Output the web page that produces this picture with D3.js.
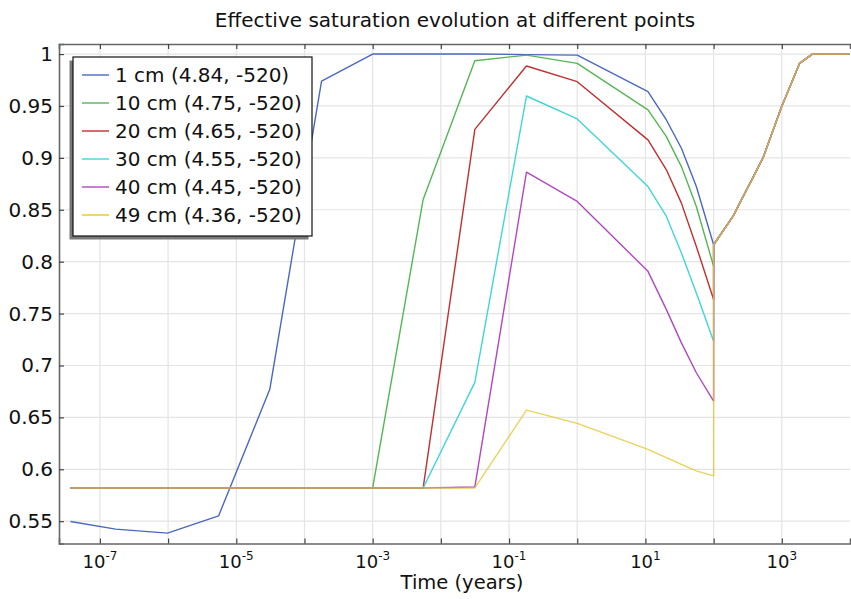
<!DOCTYPE html>
<html>
<head>
<meta charset="utf-8">
<script src="https://cdn.jsdelivr.net/npm/d3@7"></script>
<style>
  html, body { margin: 0; padding: 0; background: #fff; }
  svg { display: block; font-family: "DejaVu Sans", sans-serif; }
</style>
</head>
<body>
<svg id="chart" width="851" height="599"></svg>
<script>
// ---------- data ----------
const titleText = "Effective saturation evolution at different points";
const xLabel = "Time (years)";
const times = [3.7e-8, 1.7e-7, 9.8e-7, 5.5e-6, 3.1e-5, 1.78e-4, 1e-3, 5.5e-3, 0.0315, 0.18, 1.0,
               10.9, 20.3, 33.7, 55.8, 100, 100, 192, 528, 993, 1820, 2800, 10000];
const seriesNames = ["1 cm (4.84, -520)", "10 cm (4.75, -520)", "20 cm (4.65, -520)",
                     "30 cm (4.55, -520)", "40 cm (4.45, -520)", "49 cm (4.36, -520)"];
const seriesColors = ["#4a68c0", "#55b655", "#bf3030", "#40d6d6", "#b048c0", "#e6c52e"];
const s1cm  = [0.5497, 0.5423, 0.5385, 0.5551, 0.677, 0.974, 1.0, 1.0, 1.0, 0.9995, 0.999,
               0.9638, 0.9365, 0.9093, 0.8724, 0.8163, 0.8163, 0.8436, 0.8997, 0.9493, 0.991, 1.0, 1.0];
const s10cm = [0.582, 0.582, 0.582, 0.582, 0.582, 0.582, 0.582, 0.860, 0.9936, 0.999, 0.991,
               0.9462, 0.9205, 0.8916, 0.8532, 0.7955, 0.8163, 0.8436, 0.8997, 0.9493, 0.991, 1.0, 1.0];
const s20cm = [0.582, 0.582, 0.582, 0.582, 0.582, 0.582, 0.582, 0.582, 0.9275, 0.9885, 0.9734,
               0.9173, 0.8885, 0.8564, 0.8147, 0.7635, 0.8163, 0.8436, 0.8997, 0.9493, 0.991, 1.0, 1.0];
const s30cm = [0.582, 0.582, 0.582, 0.582, 0.582, 0.582, 0.582, 0.582, 0.6837, 0.9596, 0.9375,
               0.8724, 0.8436, 0.8084, 0.7699, 0.7234, 0.8163, 0.8436, 0.8997, 0.9493, 0.991, 1.0, 1.0];
const s40cm = [0.582, 0.582, 0.582, 0.582, 0.582, 0.582, 0.582, 0.582, 0.583, 0.8862, 0.858,
               0.7907, 0.7538, 0.7218, 0.693, 0.6657, 0.8163, 0.8436, 0.8997, 0.9493, 0.991, 1.0, 1.0];
const s49cm = [0.582, 0.582, 0.582, 0.582, 0.582, 0.582, 0.582, 0.582, 0.582, 0.657, 0.6442,
               0.6192, 0.6112, 0.6048, 0.5984, 0.5936, 0.8163, 0.8436, 0.8997, 0.9493, 0.991, 1.0, 1.0];
const seriesValues = [s1cm, s10cm, s20cm, s30cm, s40cm, s49cm];
const yTicks = [0.55, 0.6, 0.65, 0.7, 0.75, 0.8, 0.85, 0.9, 0.95, 1];
const yTickLabels = ["0.55", "0.6", "0.65", "0.7", "0.75", "0.8", "0.85", "0.9", "0.95", "1"];
const xTickExponents = [-7, -6, -5, -4, -3, -2, -1, 0, 1, 2, 3];
const xLabelExponents = ["-7", "-5", "-3", "-1", "1", "3"];

// ---------- layout ----------
const svg = d3.select("#chart");
const plot = { left: 59, right: 850, top: 44, bottom: 543.5 };

const x = d3.scaleLog().domain([Math.pow(10, -7.6), 1e4]).range([plot.left, plot.right]);
const y = d3.scaleLinear().domain([0.5285, 1.0097]).range([plot.bottom, plot.top]);

// grid
const grid = svg.append("g");
grid.selectAll("line.vg").data(xTickExponents).enter().append("line")
  .attr("x1", d => x(Math.pow(10, d))).attr("x2", d => x(Math.pow(10, d)))
  .attr("y1", plot.top).attr("y2", plot.bottom)
  .attr("stroke", "#e4e4e4").attr("stroke-width", 1.2);
grid.selectAll("line.hg").data(yTicks).enter().append("line")
  .attr("x1", plot.left).attr("x2", plot.right)
  .attr("y1", d => y(d)).attr("y2", d => y(d))
  .attr("stroke", "#e4e4e4").attr("stroke-width", 1.2);

// clip
svg.append("clipPath").attr("id", "clip").append("rect")
  .attr("x", plot.left).attr("y", plot.top)
  .attr("width", plot.right - plot.left + 2).attr("height", plot.bottom - plot.top);

const line = d3.line().x(d => x(d[0])).y(d => y(d[1]));
const lines = svg.append("g").attr("clip-path", "url(#clip)");
seriesValues.forEach((vals, i) => {
  const pts = times.map((t, k) => [t, vals[k]]);
  lines.append("path").datum(pts)
    .attr("d", line)
    .attr("fill", "none")
    .attr("stroke", seriesColors[i])
    .attr("stroke-width", 1.4)
    .attr("stroke-opacity", i === 5 ? 0.78 : 1)
    .attr("stroke-linejoin", "round");
});

// axes frame
const axisColor = "#666";
const axG = svg.append("g");
const xAxisBottom = d3.axisBottom(x).tickValues(xTickExponents.map(e => Math.pow(10, e)))
  .tickSize(-5).tickFormat("");
const xAxisTop = d3.axisTop(x).tickValues(xTickExponents.map(e => Math.pow(10, e)))
  .tickSize(-5).tickFormat("");
const yAxisLeft = d3.axisLeft(y).tickValues(yTicks).tickSize(-5).tickFormat("");

[[xAxisBottom, `translate(0,${plot.bottom})`], [xAxisTop, `translate(0,${plot.top})`],
 [yAxisLeft, `translate(${plot.left},0)`]].forEach(([ax, tr]) => {
  const g = axG.append("g").attr("transform", tr).call(ax);
  g.select(".domain").attr("stroke", axisColor).attr("stroke-width", 1.6);
  g.selectAll(".tick line").attr("stroke", "#444").attr("stroke-width", 1.2);
});

// y tick labels
svg.append("g").selectAll("text").data(yTicks).enter().append("text")
  .attr("x", 53).attr("y", d => y(d) + 7)
  .attr("text-anchor", "end")
  .attr("font-size", 20).attr("fill", "#111")
  .text((d, i) => yTickLabels[i]);

// x tick labels (10^n)
const xl = svg.append("g").selectAll("text").data(xLabelExponents).enter().append("text")
  .attr("x", d => x(Math.pow(10, +d)))
  .attr("y", 568)
  .attr("text-anchor", "middle")
  .attr("font-size", 18).attr("fill", "#111");
xl.append("tspan").text("10");
xl.append("tspan").attr("dy", -8).attr("font-size", 12).text(d => d);

// axis title
svg.append("text").attr("x", 462).attr("y", 589).attr("text-anchor", "middle")
  .attr("font-size", 19.5).attr("fill", "#111").text(xLabel);

// chart title
svg.append("text").attr("x", 455).attr("y", 26.5).attr("text-anchor", "middle")
  .attr("font-size", 20).attr("fill", "#111").text(titleText);

// legend
const lg = svg.append("g");
const lgBox = { x: 73, y: 57, w: 239, h: 179 };
lg.append("rect").attr("x", lgBox.x - 3.5).attr("y", lgBox.y + 3.5)
  .attr("width", lgBox.w).attr("height", lgBox.h).attr("fill", "#7a7a7a");
lg.append("rect").attr("x", lgBox.x).attr("y", lgBox.y)
  .attr("width", lgBox.w).attr("height", lgBox.h)
  .attr("fill", "#fff").attr("stroke", "#111").attr("stroke-width", 1.2);
seriesNames.forEach((name, i) => {
  const cy = 75 + i * 28;
  lg.append("line").attr("x1", 82).attr("x2", 109).attr("y1", cy).attr("y2", cy)
    .attr("stroke", seriesColors[i]).attr("stroke-width", 1.4);
  lg.append("text").attr("x", 115).attr("y", cy + 7)
    .attr("font-size", 20).attr("fill", "#111").text(name);
});
</script>
</body>
</html>
